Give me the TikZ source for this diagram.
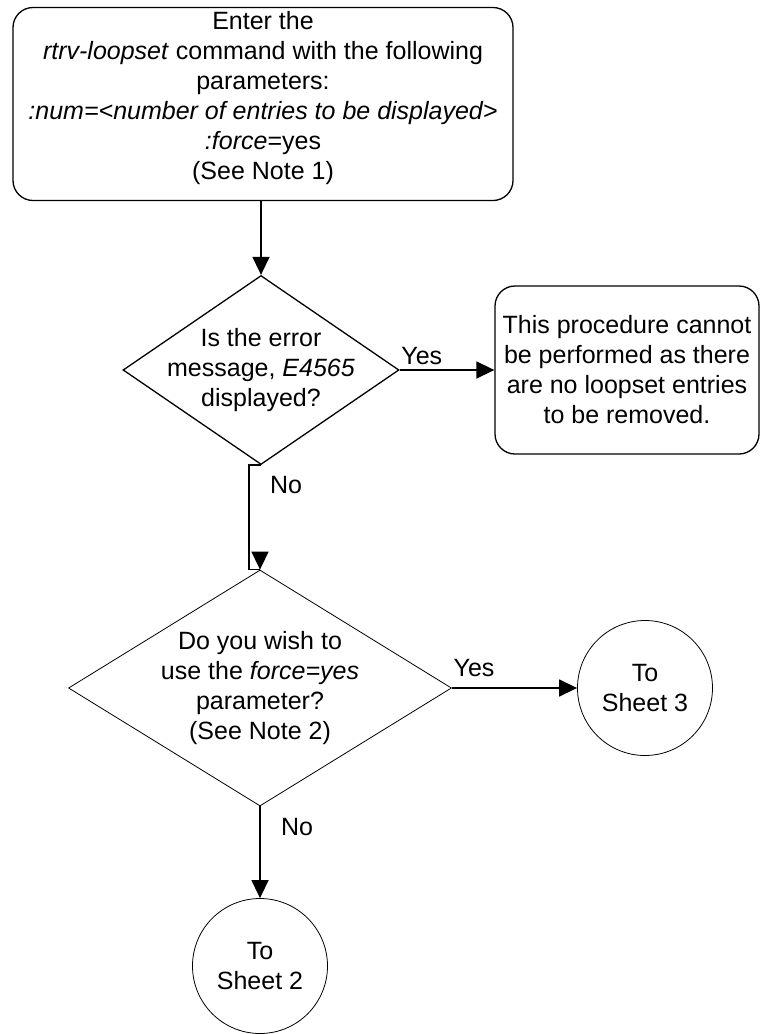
\documentclass[tikz,border=0pt]{standalone}
\usepackage{fontspec}
\setmainfont{Liberation Sans}
\usetikzlibrary{shapes.geometric,arrows.meta}

\begin{document}
\begin{tikzpicture}[
x=1pt,y=-1pt,
every node/.style={
    font=\fontsize{25}{30}\selectfont,
    align=center
},
stepbox/.style={draw,rounded corners=20pt,line width=1.3pt,inner sep=0pt},
decision/.style={draw,diamond,inner sep=0pt},
sheet/.style={draw,circle,line width=0.8pt,minimum size=135pt,inner sep=0pt},
arr/.style={-{Triangle[length=18pt,width=17pt]},line width=1.5pt}
]
\useasboundingbox (0,0) rectangle (761,1034);

%---------------- Retrieve ----------------
\node[stepbox,minimum width=500pt,minimum height=193pt] (rtrv) at (263,104)
  {Enter the\\\textit{rtrv-loopset} command with the following\\parameters:\\
   \textit{:num=<number of entries to be displayed>}\\\textit{:force}=yes\\(See Note 1)\\[-12pt]\mbox{}};

%---------------- Error check ----------------
\node[decision,line width=1.3pt,minimum width=276pt,minimum height=189pt,
  label={center:Is the error\\message, \textit{E4565}\\displayed?}] (err) at (261,370) {};
\node[stepbox,minimum width=264pt,minimum height=168pt] (stop) at (627,370)
  {This procedure cannot\\be performed as there\\are no loopset entries\\to be removed.};

\draw[arr] (rtrv.south -| err.north) -- (err.north);
\draw[arr] (err.east) -- (err.east -| stop.west)
  node[pos=0,anchor=south west,inner xsep=1pt,inner ysep=5pt] {Yes};

%---------------- Force ----------------
\node[decision,line width=0.8pt,minimum width=383pt,minimum height=236pt,
  label={center:Do you wish to\\use the \textit{force=yes}\\parameter?\\(See Note 2)}] (force) at (260,688) {};

\draw[line width=1.5pt] (err.south) -- ++(-12,0) |- (force.north);
\draw[arr] ([yshift=18pt]force.north) -- (force.north);
\node (no1) at (286,485) {No};

%---------------- Sheets ----------------
\node[sheet] (sheet3) at (645,688) {To\\Sheet 3};
\node[sheet] (sheet2) at (260,966) {To\\Sheet 2};

\draw[arr] (force.east) -- (force.east -| sheet3.west)
  node[pos=0,anchor=south west,inner xsep=1pt,inner ysep=11pt] {Yes};
\draw[arr] (force.south) -- (sheet2.north);
\node (no2) at (297,827) {No};

\end{tikzpicture}
\end{document}
